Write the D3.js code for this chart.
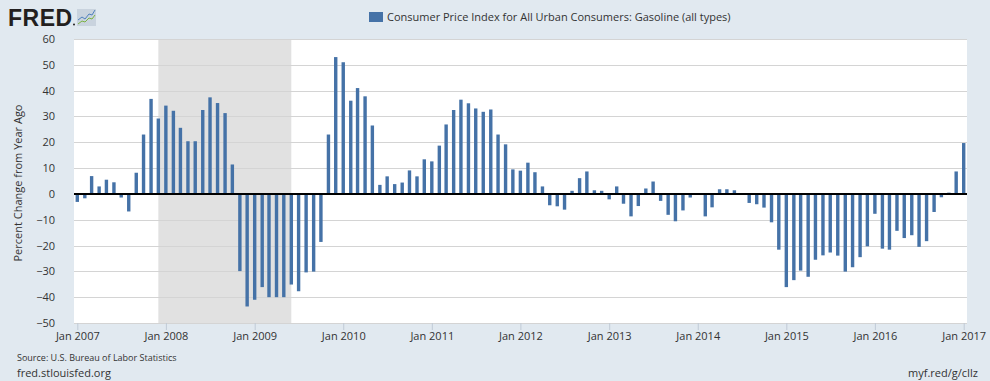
<!DOCTYPE html>
<html>
<head>
<meta charset="utf-8">
<script src="https://cdn.jsdelivr.net/npm/d3@7"></script>
<style>
  html, body { margin: 0; padding: 0; background: #e1e9f0; }
  svg { display: block; font-family: "Open Sans", sans-serif; }
</style>
</head>
<body>
<div id="chart"></div>
<script>
// Monthly YoY % change, CPI Gasoline (all types), Jan 2007 - Jan 2017
const startMonth = new Date(2007, 0, 1);
const endMonth = new Date(2017, 0, 1);
const values = [
  -3.1, -1.7, 6.9, 2.9, 5.5, 4.5, -1.4, -6.8, 8.2, 23.0, 36.8, 29.2,
  34.2, 32.2, 25.6, 20.4, 20.4, 32.5, 37.4, 35.2, 31.3, 11.4, -29.9, -43.6,
  -41.0, -36.1, -40.0, -40.0, -40.0, -35.1, -37.7, -30.4, -30.1, -18.6, 23.0, 53.0,
  51.0, 36.1, 41.0, 37.8, 26.5, 3.5, 6.8, 3.8, 4.4, 9.1, 6.8, 13.4,
  12.6, 18.7, 26.9, 32.5, 36.5, 35.1, 33.1, 31.8, 32.7, 23.0, 19.2, 9.5,
  9.0, 12.1, 8.4, 2.9, -4.4, -4.8, -6.1, 1.2, 6.1, 8.7, 1.4, 1.2,
  -2.1, 2.9, -3.8, -8.7, -4.7, 2.1, 4.8, -2.7, -8.1, -10.6, -6.4, -1.4,
  0.1, -8.7, -5.2, 1.8, 1.8, 1.4, 0.1, -3.5, -4.0, -5.3, -11.0, -21.6,
  -36.1, -33.4, -29.7, -32.1, -25.5, -23.8, -22.7, -23.9, -30.1, -28.4, -24.5, -20.3,
  -7.7, -21.2, -21.6, -14.3, -17.1, -16.0, -20.5, -18.3, -7.0, -1.3, 0.5, 8.7,
  19.7
];
const yTicks = [60, 50, 40, 30, 20, 10, 0, -10, -20, -30, -40, -50];
const xTickYears = [2007, 2008, 2009, 2010, 2011, 2012, 2013, 2014, 2015, 2016, 2017];
const recessions = [[new Date(2007, 11, 1), new Date(2009, 5, 1)]];
const seriesName = 'Consumer Price Index for All Urban Consumers: Gasoline (all types)';

const months = d3.timeMonth.range(startMonth, d3.timeMonth.offset(endMonth, 1));
const data = months.map((d, i) => ({ date: d, value: values[i] }));

const width = 990, height = 381;
const plot = { left: 74, right: 967, top: 39, bottom: 323 };

const svg = d3.select('#chart').append('svg')
  .attr('width', width)
  .attr('height', height);

svg.append('rect').attr('width', width).attr('height', height).attr('fill', '#e1e9f0');

// scales
const x = d3.scaleTime().domain([startMonth, endMonth]).range([77.3, 963.7]);
const y = d3.scaleLinear().domain([-50, 60]).range([plot.bottom, plot.top]);

// plot background
svg.append('rect')
  .attr('x', plot.left).attr('y', plot.top)
  .attr('width', plot.right - plot.left).attr('height', plot.bottom - plot.top)
  .attr('fill', '#ffffff');

// recession shading
svg.selectAll('.rec')
  .data(recessions)
  .join('rect')
  .attr('x', (d) => x(d[0]))
  .attr('width', (d) => x(d[1]) - x(d[0]))
  .attr('y', plot.top)
  .attr('height', plot.bottom - plot.top)
  .attr('fill', '#e1e1e1');

// grid lines
svg.append('g')
  .selectAll('line')
  .data(yTicks)
  .join('line')
  .attr('x1', plot.left).attr('x2', plot.right)
  .attr('y1', (d) => Math.round(y(d)) + 0.5)
  .attr('y2', (d) => Math.round(y(d)) + 0.5)
  .attr('stroke', '#d4d4d4')
  .attr('stroke-width', 1);

// y axis labels
const yAxis = svg.append('g')
  .attr('transform', `translate(${plot.left - 4},0)`)
  .call(d3.axisLeft(y).tickValues(yTicks).tickSize(0).tickPadding(15));
yAxis.select('.domain').remove();
yAxis.selectAll('text')
  .attr('fill', '#333')
  .style('font-size', '11px')
  .style('font-family', '"Open Sans", sans-serif');

// x axis
const xAxis = svg.append('g')
  .attr('transform', `translate(0,${plot.bottom})`)
  .call(d3.axisBottom(x)
    .tickValues(xTickYears.map((yr) => new Date(yr, 0, 1)))
    .tickFormat(d3.timeFormat('Jan %Y'))
    .tickSize(7)
    .tickPadding(2));
xAxis.select('.domain').remove();
xAxis.selectAll('line').attr('stroke', '#c0cad6');
xAxis.selectAll('text')
  .attr('fill', '#333')
  .style('font-size', '11px')
  .style('font-family', '"Open Sans", sans-serif');

// bars
const barW = 3.4;
svg.append('g')
  .selectAll('rect')
  .data(data)
  .join('rect')
  .attr('x', (d) => x(d.date) - barW / 2)
  .attr('width', barW)
  .attr('y', (d) => y(Math.max(0, d.value)))
  .attr('height', (d) => Math.abs(y(d.value) - y(0)))
  .attr('fill', '#4572a7');

// zero line
svg.append('line')
  .attr('x1', plot.left).attr('x2', plot.right)
  .attr('y1', y(0)).attr('y2', y(0))
  .attr('stroke', '#000')
  .attr('stroke-width', 2);

// y axis title
svg.append('text')
  .attr('transform', `translate(22,${(plot.top + plot.bottom) / 2 + 2}) rotate(-90)`)
  .attr('text-anchor', 'middle')
  .attr('fill', '#333')
  .style('font-size', '11px')
  .text('Percent Change from Year Ago');

// legend
svg.append('rect')
  .attr('x', 369).attr('y', 12)
  .attr('width', 14).attr('height', 10)
  .attr('fill', '#4572a7');
svg.append('text')
  .attr('x', 387).attr('y', 21)
  .attr('fill', '#333')
  .style('font-size', '11px')
  .text(seriesName);

// FRED logo
svg.append('text')
  .attr('x', 8).attr('y', 26)
  .attr('fill', '#231f20')
  .style('font-family', '"Liberation Sans", Arial, sans-serif')
  .style('font-weight', 'bold')
  .style('font-size', '23px')
  .style('letter-spacing', '0.5px')
  .text('FRED');
svg.append('circle').attr('cx', 74).attr('cy', 24.5).attr('r', 1).attr('fill', '#231f20');
const logo = svg.append('g').attr('transform', 'translate(77,9)');
logo.append('rect').attr('width', 19).attr('height', 17).attr('fill', '#c9d3de');
logo.append('path')
  .attr('d', 'M1,11 L5,8 L8,10 L12,5 L15,6 L18,1')
  .attr('fill', 'none').attr('stroke', '#4f81bd').attr('stroke-width', 1);
logo.append('path')
  .attr('d', 'M1,15 L5,12 L8,13 L12,9 L15,10 L18,6')
  .attr('fill', 'none').attr('stroke', '#7cb342').attr('stroke-width', 1);

// footer
svg.append('text')
  .attr('x', 17).attr('y', 361)
  .attr('fill', '#333')
  .style('font-size', '9px')
  .text('Source: U.S. Bureau of Labor Statistics');
svg.append('text')
  .attr('x', 17).attr('y', 377)
  .attr('fill', '#333')
  .style('font-size', '11px')
  .text('fred.stlouisfed.org');
svg.append('text')
  .attr('x', 978).attr('y', 377)
  .attr('text-anchor', 'end')
  .attr('fill', '#333')
  .style('font-size', '11px')
  .text('myf.red/g/cIlz');
</script>
</body>
</html>
